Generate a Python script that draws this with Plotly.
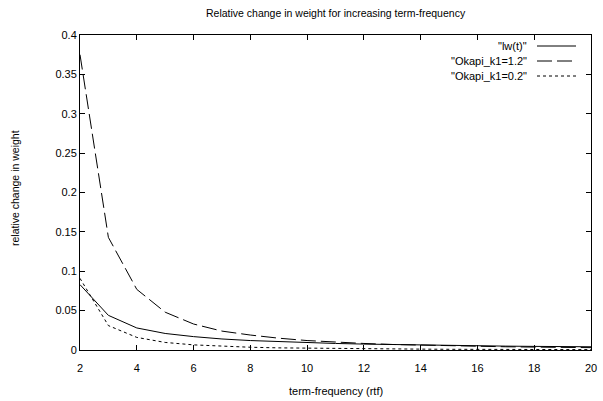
import plotly.graph_objects as go

# term-frequency values
tf = [2, 3, 4, 5, 6, 7, 8, 9, 10, 11, 12, 13, 14, 15, 16, 17, 18, 19, 20]

# series
lw_t = [0.083, 0.044, 0.028, 0.021, 0.017, 0.014, 0.012, 0.0105, 0.0093, 0.0083,
        0.0075, 0.0068, 0.0062, 0.0057, 0.0053, 0.0049, 0.0046, 0.0043, 0.0041]
okapi_12 = [0.375, 0.143, 0.077, 0.048, 0.033, 0.024, 0.019, 0.015, 0.012, 0.0098,
            0.0083, 0.0070, 0.0061, 0.0053, 0.0047, 0.0041, 0.0037, 0.0033, 0.0030]
okapi_02 = [0.091, 0.031, 0.016, 0.0096, 0.0065, 0.0046, 0.0035, 0.0027, 0.0022, 0.0018,
            0.0015, 0.0013, 0.0011, 0.0009, 0.0008, 0.0007, 0.0007, 0.0006, 0.0005]

series_names = ['"lw(t)"', '"Okapi_k1=1.2"', '"Okapi_k1=0.2"']
series_dash = ["solid", "15px,5px", "3px,3px"]
series_vals = [lw_t, okapi_12, okapi_02]

title = "Relative change in weight for increasing term-frequency"
x_title = "term-frequency (rtf)"
y_title = "relative change in weight"

FONT = "Liberation Sans"
W, H = 603, 401
L, R, T, B = 80, 12, 35, 51
pw = W - L - R
ph = H - T - B

fig = go.Figure()
for name, vals, dash in zip(series_names, series_vals, series_dash):
    fig.add_trace(go.Scatter(x=tf, y=vals, mode="lines", name=name,
                             line=dict(color="black", width=1, dash=dash),
                             showlegend=False, hoverinfo="skip"))

# custom gnuplot-style legend (text right, sample on right side)
for i, (name, dash) in enumerate(zip(series_names, series_dash)):
    ypx = 46 + 15 * i
    yp = 1 - (ypx - T) / ph
    fig.add_annotation(x=(529 - L) / pw, y=yp, xref="paper", yref="paper", text=name,
                       showarrow=False, xanchor="right", yanchor="middle",
                       font=dict(family=FONT, size=11, color="black"))
    fig.add_shape(type="line", xref="paper", yref="paper",
                  x0=(537 - L) / pw, x1=(576 - L) / pw, y0=yp, y1=yp,
                  line=dict(color="black", width=1, dash=dash))

# title and axis titles
fig.add_annotation(x=0.5, y=1 - (13 - T) / ph, xref="paper", yref="paper", text=title,
                   showarrow=False, xanchor="center", yanchor="middle",
                   font=dict(family=FONT, size=10.5, color="black"))
fig.add_annotation(x=0.5, y=1 - (391 - T) / ph, xref="paper", yref="paper", text=x_title,
                   showarrow=False, xanchor="center", yanchor="middle",
                   font=dict(family=FONT, size=11, color="black"))
fig.add_annotation(x=(15 - L) / pw, y=1 - (188 - T) / ph, xref="paper", yref="paper",
                   text=y_title, textangle=-90,
                   showarrow=False, xanchor="center", yanchor="middle",
                   font=dict(family=FONT, size=10.5, color="black"))

fig.update_layout(
    width=W, height=H,
    margin=dict(l=L, r=R, t=T, b=B, autoexpand=False),
    paper_bgcolor="white", plot_bgcolor="white",
    font=dict(family=FONT, size=11, color="black"),
    xaxis=dict(range=[2, 20], dtick=2, tick0=2, showgrid=False, zeroline=False,
               showline=True, mirror="ticks", linecolor="black", linewidth=1,
               ticks="inside", ticklen=5, tickcolor="black", automargin=False,
               ticklabelstandoff=8,
               tickfont=dict(family=FONT, size=11)),
    yaxis=dict(range=[0, 0.4], dtick=0.05, showgrid=False, zeroline=False,
               showline=True, mirror="ticks", linecolor="black", linewidth=1,
               ticks="inside", ticklen=5, tickcolor="black", automargin=False,
               tickfont=dict(family=FONT, size=11)),
)

fig.write_html("out.html", config={"displayModeBar": False, "staticPlot": True},
               post_script="document.body.style.margin='0';document.body.style.overflow='hidden';")
